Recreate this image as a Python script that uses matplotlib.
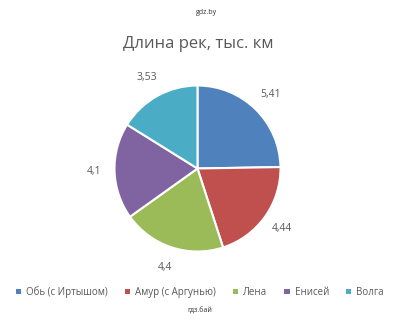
import matplotlib
matplotlib.use("Agg")
import matplotlib.pyplot as plt
from matplotlib.patches import Patch

rivers = ["Обь (с Иртышом)", "Амур (с Аргунью)", "Лена", "Енисей", "Волга"]
lengths = [5.41, 4.44, 4.4, 4.1, 3.53]
value_labels = ["5,41", "4,44", "4,4", "4,1", "3,53"]
colors = ["#4F81BD", "#C0504D", "#9BBB59", "#8064A2", "#4BACC6"]

plt.rcParams['font.family'] = ['Open Sans', 'DejaVu Sans']
txt = "#595959"

cx, cy, r = 197.5, 168.5, 83
fig = plt.figure(figsize=(4.14, 3.25), dpi=100)
ax = fig.add_axes([(cx - r) / 414, (325 - cy - r) / 325, 2 * r / 414, 2 * r / 325])
wedges, texts = ax.pie(lengths, labels=value_labels, colors=colors, startangle=90,
                       counterclock=False, labeldistance=1.25,
                       wedgeprops=dict(edgecolor="white", linewidth=1.5),
                       textprops=dict(color=txt, fontsize=7.5))
for t in texts:
    t.set_horizontalalignment("center")
    t.set_verticalalignment("center")
ax.set_xlim(-1, 1)
ax.set_ylim(-1, 1)
ax.set_aspect("equal")

fig.text(198 / 414, 1 - 44 / 325, "Длина рек, тыс. км", ha="center", va="center",
         fontsize=12, color=txt)
fig.text(207 / 414, 1 - 13 / 325, "gdz.by", ha="center", va="center", fontsize=5, color="#333333")
fig.text(200 / 414, 1 - 311 / 325, "гдз.бай", ha="center", va="center", fontsize=5, color="#333333")

handles = [Patch(facecolor=c, edgecolor="none") for c in colors]
fig.legend(handles, rivers, loc="center", bbox_to_anchor=(200 / 414, 1 - 292 / 325), ncol=5,
           frameon=False, fontsize=7, labelcolor=txt, handlelength=0.55, handleheight=0.55,
           handletextpad=0.5, columnspacing=1.75)

fig.savefig("out.png", dpi=100, facecolor="white")
